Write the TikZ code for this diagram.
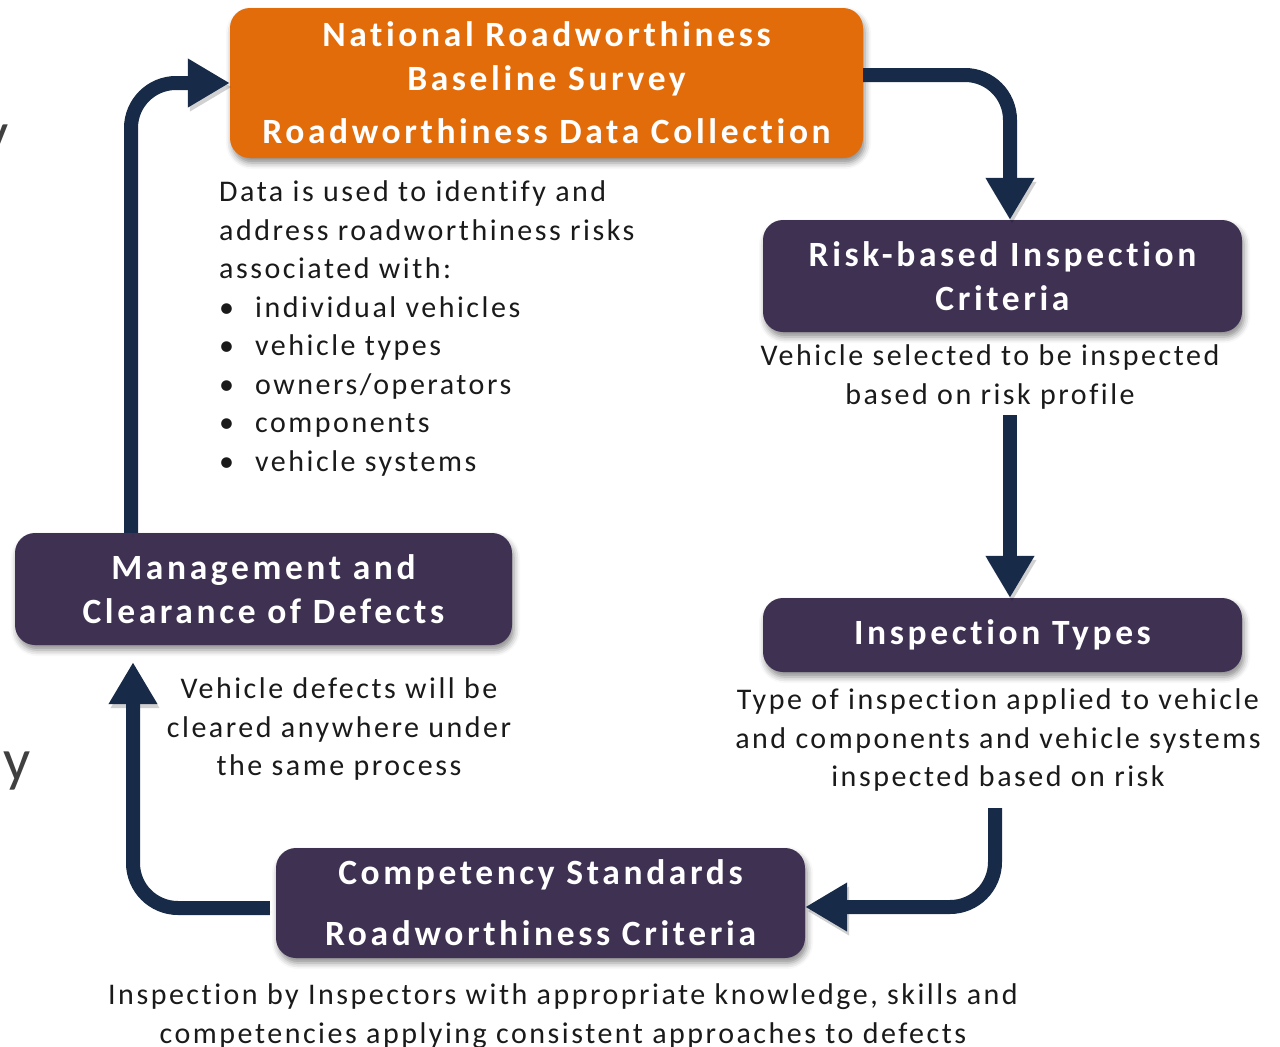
\documentclass[tikz,border=0pt]{standalone}
\usepackage{fontspec}
\setmainfont{Carlito}
\newfontfamily\boxfont[LetterSpace=10.2,Ligatures=NoCommon]{Carlito}
\newfontfamily\bodyfont[LetterSpace=8.4,Ligatures=NoCommon]{Carlito}
\usetikzlibrary{arrows.meta,shadows.blur}
\definecolor{orng}{HTML}{E36C0A}
\definecolor{purp}{HTML}{3F3152}
\definecolor{navy}{HTML}{172A48}
\definecolor{txt}{HTML}{1A1A1A}
\definecolor{frag}{HTML}{404040}
\tikzset{
  box/.style={rounded corners=20pt, inner sep=0pt, text=white, align=center,
    font=\boxfont\bfseries\fontsize{35.5}{44}\selectfont,
    blur shadow={shadow xshift=2pt, shadow yshift=-5pt, shadow blur radius=6pt, shadow opacity=45}},
  body/.style={inner sep=0pt, text=txt, align=center, font=\bodyfont\fontsize{30}{38.5}\selectfont},
  flow/.style={draw=navy, line width=14pt, rounded corners=45pt,
    -{Triangle[width=46pt,length=42pt]},
    preaction={draw=black, draw opacity=0.18, transform canvas={shift={(2pt,-4pt)}}}},
}
\begin{document}
\begin{tikzpicture}[x=1pt,y=-1pt]
\useasboundingbox (0,0) rectangle (1280,1047);
% partial letters at the left edge
\node[anchor=north east, inner sep=0pt, font=\fontsize{60}{60}\selectfont, text=frag] (fragA) at (9,125) {y};
\node[anchor=north east, inner sep=0pt, font=\fontsize{60}{60}\selectfont, text=frag] (fragB) at (31,752) {y};

% boxes
\node[box, fill=orng, minimum width=633pt, minimum height=150pt] (nat) at (546.5,83)
  {\raisebox{-2pt}{National Roadworthiness}\\\raisebox{-2pt}{Baseline Survey}\\[9pt]\raisebox{-2pt}{Roadworthiness Data Collection}};
\node[box, fill=purp, minimum width=479pt, minimum height=112pt] (risk) at (1002.5,276)
  {Risk-based Inspection\\Criteria};
\node[box, fill=purp, minimum width=479pt, minimum height=74pt] (insp) at (1002.5,635)
  {\raisebox{-2pt}{Inspection Types}};
\node[box, fill=purp, minimum width=529pt, minimum height=110pt] (comp) at (540.5,903)
  {\raisebox{-4pt}{Competency Standards}\\[17pt]\raisebox{-4pt}{Roadworthiness Criteria}};
\node[box, fill=purp, minimum width=497pt, minimum height=112pt] (mgmt) at (263.5,589)
  {Management and\\Clearance of Defects};

% descriptive texts
\node[body] (risktxt) at (990,377) {Vehicle selected to be inspected\\based on risk profile};
\node[body] (insptxt) at (998,740) {Type of inspection applied to vehicle\\and components and vehicle systems\\inspected based on risk};
\node[body] (mgmttxt) at (339,729) {Vehicle defects will be\\cleared anywhere under\\the same process};
\node[body] (comptxt) at (563,1016) {Inspection by Inspectors with appropriate knowledge, skills and\\competencies applying consistent approaches to defects};
\node[body, align=left, anchor=west] (datatxt) at (219,328.5)
  {Data is used to identify and\\address roadworthiness risks\\associated with:\\
   \makebox[36pt][l]{\textbullet}individual vehicles\\
   \makebox[36pt][l]{\textbullet}vehicle types\\
   \makebox[36pt][l]{\textbullet}owners/operators\\
   \makebox[36pt][l]{\textbullet}components\\
   \makebox[36pt][l]{\textbullet}vehicle systems};

% connectors
\coordinate (b0) at (1010,415);
\coordinate (c0) at (995,808);
\draw[flow] ([yshift=8pt]nat.east) -| ([xshift=7.5pt]risk.north);
\draw[flow] (b0) -- ([xshift=7.5pt]insp.north);
\draw[flow] (c0) |- ([yshift=-4pt]comp.east);
\draw[flow, shorten >=17pt] ([xshift=-6pt,yshift=-5pt]comp.west) -| ([xshift=-130.5pt]mgmt.south);
\draw[flow] ([xshift=-132.5pt]mgmt.north) |- (nat.west);
\end{tikzpicture}
\end{document}
